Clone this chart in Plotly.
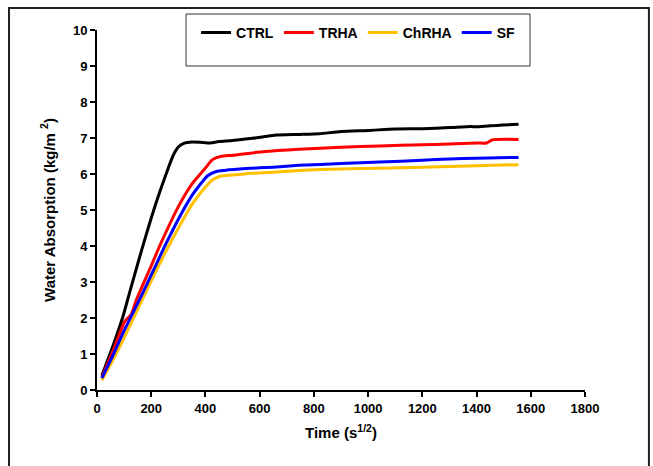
import plotly.graph_objects as go

ctrl_x = [18, 60, 96, 120, 150, 175, 218, 255, 280, 300, 322, 350, 380, 408, 450, 500, 574, 620, 660, 745, 820, 900, 1000, 1100, 1200, 1300, 1380, 1400, 1450, 1555]
ctrl_y = [0.4, 1.25, 2.05, 2.7, 3.5, 4.15, 5.2, 6.0, 6.5, 6.75, 6.86, 6.89, 6.88, 6.86, 6.9, 6.93, 6.99, 7.04, 7.08, 7.1, 7.12, 7.18, 7.21, 7.25, 7.26, 7.29, 7.32, 7.31, 7.34, 7.38]

trha_x = [18, 60, 102, 126, 145, 200, 237, 304, 350, 396, 426, 457, 500, 610, 745, 900, 1043, 1200, 1300, 1400, 1436, 1460, 1555]
trha_y = [0.35, 1.1, 1.9, 2.1, 2.5, 3.45, 4.1, 5.15, 5.72, 6.13, 6.4, 6.49, 6.52, 6.62, 6.69, 6.74, 6.78, 6.81, 6.83, 6.86, 6.86, 6.95, 6.96]

chrha_x = [18, 60, 100, 132, 182, 261, 304, 350, 390, 420, 451, 500, 549, 650, 745, 900, 1043, 1200, 1400, 1555]
chrha_y = [0.27, 0.85, 1.45, 1.95, 2.75, 3.95, 4.55, 5.15, 5.55, 5.8, 5.93, 5.97, 6.01, 6.05, 6.1, 6.14, 6.16, 6.19, 6.23, 6.26]

sf_x = [18, 60, 100, 133, 169, 249, 304, 350, 385, 408, 440, 470, 549, 650, 745, 900, 1043, 1200, 1300, 1400, 1555]
sf_y = [0.33, 0.98, 1.65, 2.15, 2.7, 3.98, 4.8, 5.4, 5.75, 5.95, 6.07, 6.1, 6.15, 6.19, 6.24, 6.29, 6.33, 6.38, 6.42, 6.44, 6.46]

series = [
    ("CTRL", ctrl_x, ctrl_y, "#000000"),
    ("TRHA", trha_x, trha_y, "#FF0000"),
    ("ChRHA", chrha_x, chrha_y, "#FFC000"),
    ("SF", sf_x, sf_y, "#0000FF"),
]

fig = go.Figure()
for name, xs, ys, col in series:
    fig.add_trace(go.Scatter(x=xs, y=ys, name=name, mode="lines",
                             line=dict(color=col, width=3, shape="spline", smoothing=0.6)))

font = "Liberation Sans, Arial, sans-serif"
fig.update_layout(
    width=653, height=466,
    margin=dict(l=97, r=68, t=30, b=76, autoexpand=False),
    paper_bgcolor="white", plot_bgcolor="white",
    font=dict(family=font, size=13, color="black"),
    showlegend=True,
    legend=dict(orientation="h", x=0.203, y=0.992, xanchor="left", yanchor="middle",
                borderwidth=0, bgcolor="rgba(0,0,0,0)",
                itemwidth=30, tracegroupgap=0,
                font=dict(family=font, size=14, color="black", weight="bold")),
    xaxis=dict(range=[0, 1800], dtick=200, tick0=0, showgrid=False, zeroline=False,
               showline=True, linecolor="black", linewidth=2, ticks="outside",
               ticklen=5, tickwidth=2, tickcolor="black", automargin=False,
               tickfont=dict(family=font, size=13, weight="bold"),
               title=dict(text="Time (s<sup>1/2</sup>)", font=dict(family=font, size=15, weight="bold"), standoff=13)),
    yaxis=dict(range=[0, 10], dtick=1, tick0=0, showgrid=False, zeroline=False,
               showline=True, linecolor="black", linewidth=2, ticks="outside",
               ticklen=5, tickwidth=2, tickcolor="black", automargin=False,
               tickfont=dict(family=font, size=13, weight="bold"),
               title=dict(text="Water Absorption (kg/m <sup>2</sup>)", font=dict(family=font, size=15, weight="bold"), standoff=14)),
)

# outer frame
fig.add_shape(type="rect", xref="paper", yref="paper",
              x0=-0.1803, x1=1.131, y0=-0.25, y1=1.061,
              line=dict(color="#222222", width=2), layer="below")
# legend box
fig.add_shape(type="rect", xref="paper", yref="paper",
              x0=0.1824, x1=0.8873, y0=0.9, y1=1.0444,
              line=dict(color="#333333", width=1), layer="above")

fig.write_html("out.html", config={"displayModeBar": False},
               post_script="document.body.style.margin='0';")
